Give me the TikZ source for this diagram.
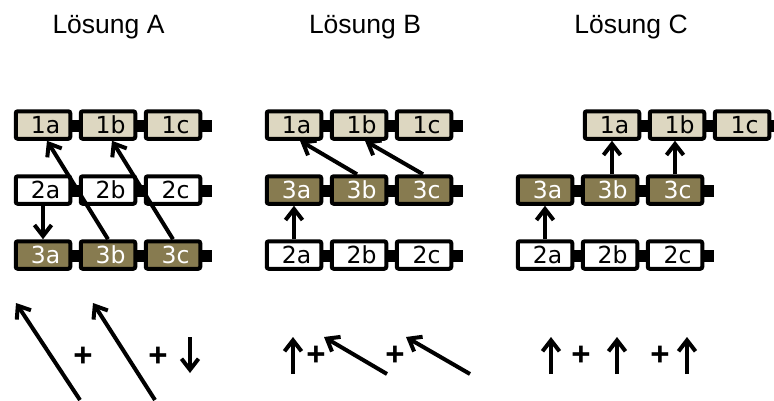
\documentclass[tikz,border=0pt]{standalone}
\usepackage{fontspec}
\setmainfont{Liberation Sans}
\newfontfamily\boxfont{DejaVu Sans}
\usetikzlibrary{arrows.meta,calc,backgrounds}
\definecolor{beige}{HTML}{DDD7C1}
\definecolor{olive}{HTML}{877B50}
\begin{document}
\begin{tikzpicture}[x=1pt,y=-1pt,
  cell/.style={draw=black, line width=4pt, rounded corners=2pt, minimum width=54.5pt, minimum height=27.5pt, inner sep=0pt, font=\boxfont\fontsize{23.5}{24}\selectfont, execute at begin node={\hspace*{5pt}}},
  ca/.style={cell, fill=beige, text=black},
  cb/.style={cell, fill=white, text=black},
  cc/.style={cell, fill=olive, text=white},
  bar/.style={fill=black},
  arr/.style={line width=4pt, line join=round, -{Straight Barb[length=11pt,width=17pt]}},
  ttl/.style={font=\fontsize{26.5}{30}\selectfont, anchor=base, inner sep=0pt},
  plus/.style={font=\bfseries\fontsize{33}{33}\selectfont, inner sep=0pt}
]
\useasboundingbox (0,0) rectangle (774,400);
% titles
\node[ttl] (tA) at (108.5,33) {Lösung A};
\node[ttl] (tB) at (365,33) {Lösung B};
\node[ttl] (tC) at (631,33) {Lösung C};
% panel A
\node[ca] (A1a) at (43,125) {1a};
\node[ca] (A1b) at (108,125) {1b};
\node[ca] (A1c) at (173,125) {1c};
\node[cb] (A2a) at (43,190) {2a};
\node[cb] (A2b) at (108,190) {2b};
\node[cb] (A2c) at (173,190) {2c};
\node[cc] (A3a) at (43,255) {3a};
\node[cc] (A3b) at (108,255) {3b};
\node[cc] (A3c) at (173,255) {3c};
% panel B
\node[ca] (B1a) at (294,125) {1a};
\node[ca] (B1b) at (359,125) {1b};
\node[ca] (B1c) at (424,125) {1c};
\node[cc] (B3a) at (294,190) {3a};
\node[cc] (B3b) at (359,190) {3b};
\node[cc] (B3c) at (424,190) {3c};
\node[cb] (B2a) at (294,255) {2a};
\node[cb] (B2b) at (359,255) {2b};
\node[cb] (B2c) at (424,255) {2c};
% panel C
\node[ca] (C1a) at (612,125) {1a};
\node[ca] (C1b) at (677,125) {1b};
\node[ca] (C1c) at (742,125) {1c};
\node[cc] (C3a) at (545,190) {3a};
\node[cc] (C3b) at (610,190) {3b};
\node[cc] (C3c) at (675,190) {3c};
\node[cb] (C2a) at (545,255) {2a};
\node[cb] (C2b) at (610,255) {2b};
\node[cb] (C2c) at (675,255) {2c};
\begin{scope}[on background layer]
\fill[white] (0,0) rectangle (774,400);
\foreach \r/\s in {A1a/A1c, A2a/A2c, A3a/A3c, B1a/B1c, B3a/B3c, B2a/B2c, C1a/C1c, C3a/C3c, C2a/C2c}
  \fill[bar] ($(\r.center)+(0,-5)$) rectangle ($(\s.east)+(10,7)$);
\end{scope}
% arrows panel A
\draw[arr] (A2a.south) -- (A3a.north);
\draw[arr] (A3b.north) -- ($(A1a.south)+(4,0)$);
\draw[arr] (A3c.north) -- ($(A1b.south)+(4,0)$);
% arrows panel B
\draw[arr] (B2a.north) -- (B3a.south);
\draw[arr] ($(B3b.north)+(-2,0)$) -- ($(B1a.south)+(6,0)$);
\draw[arr] ($(B3c.north)+(-1,0)$) -- ($(B1b.south)+(6,0)$);
% arrows panel C
\coordinate (c3bt) at ($(C3b.north)+(2,0)$);
\draw[arr] (C2a.north) -- (C3a.south);
\draw[arr] (c3bt) -- (c3bt |- C1a.south);
\draw[arr] (C3c.north) -- (C3c.north |- C1b.south);
% legend row
\coordinate (la1s) at (80,400);  \coordinate (la1e) at (16,303);
\coordinate (la2s) at (155,400); \coordinate (la2e) at (93,303);
\coordinate (la3s) at (190,337); \coordinate (la3e) at (190,373);
\draw[arr] (la1s) -- (la1e);
\draw[arr] (la2s) -- (la2e);
\draw[arr] (la3s) -- (la3e);
\node[plus] (pA1) at (83,357) {+};
\node[plus] (pA2) at (158,357) {+};
\coordinate (lb1s) at (293,374); \coordinate (lb1e) at (293,337);
\coordinate (lb2s) at (387,374); \coordinate (lb2e) at (324,337);
\coordinate (lb3s) at (470,374); \coordinate (lb3e) at (406,337);
\draw[arr] (lb1s) -- (lb1e);
\draw[arr] (lb2s) -- (lb2e);
\draw[arr] (lb3s) -- (lb3e);
\node[plus] (pB1) at (316,356) {+};
\node[plus] (pB2) at (395,356) {+};
\coordinate (lc1s) at (551,374); \coordinate (lc1e) at (551,337);
\coordinate (lc2s) at (617,374); \coordinate (lc2e) at (617,337);
\coordinate (lc3s) at (687,374); \coordinate (lc3e) at (687,337);
\draw[arr] (lc1s) -- (lc1e);
\draw[arr] (lc2s) -- (lc2e);
\draw[arr] (lc3s) -- (lc3e);
\node[plus] (pC1) at (581,356) {+};
\node[plus] (pC2) at (660,356) {+};
\end{tikzpicture}
\end{document}
